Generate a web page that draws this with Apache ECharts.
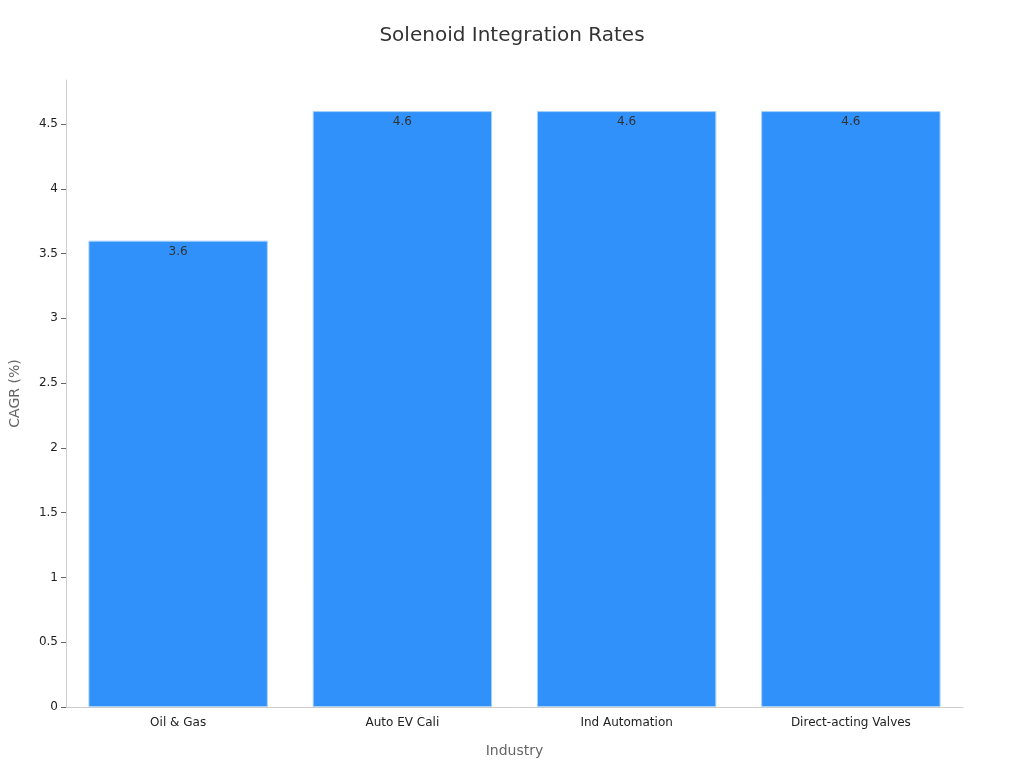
<!DOCTYPE html>
<html>
<head>
<meta charset="utf-8">
<script src="https://cdn.jsdelivr.net/npm/echarts@6/dist/echarts.min.js"></script>
<style>html,body{margin:0;padding:0;background:#fff}#main{width:1024px;height:768px}</style>
</head>
<body>
<div id="main"></div>
<script>
var industries = ['Oil & Gas', 'Auto EV Cali', 'Ind Automation', 'Direct-acting Valves'];
var cagr = [3.6, 4.6, 4.6, 4.6];

var myChart = echarts.init(document.getElementById('main'));
var option = {
	textStyle: { fontFamily: 'DejaVu Sans' },
	title: {
		text: 'Solenoid Integration Rates',
		left: 'center',
		top: 21,
		textStyle: { fontSize: 20, fontWeight: 'normal', color: '#333', fontFamily: 'DejaVu Sans' }
	},
	grid: { left: 64, right: 61, top: 80, bottom: 61 },
	xAxis: {
		type: 'category',
		data: industries,
		name: 'Industry',
		nameLocation: 'middle',
		nameGap: 37,
		nameTextStyle: { fontSize: 14, color: '#666' },
		axisLine: { lineStyle: { color: '#ccc' } },
		axisTick: { alignWithLabel: true, lineStyle: { color: '#999' } },
		axisLabel: { color: '#222', fontSize: 12, margin: 10 }
	},
	yAxis: {
		type: 'value',
		min: 0,
		max: 4.84,
		interval: 0.5,
		name: 'CAGR (%)',
		nameLocation: 'middle',
		nameGap: 44,
		nameTextStyle: { fontSize: 14, color: '#666' },
		axisLine: { show: true, lineStyle: { color: '#ccc' } },
		axisTick: { show: true, lineStyle: { color: '#666' } },
		axisLabel: { color: '#222', fontSize: 12, showMaxLabel: false },
		splitLine: { show: false }
	},
	series: [{
		type: 'bar',
		data: cagr,
		barCategoryGap: '20%',
		itemStyle: { color: '#2f91f9', borderColor: '#a8d0fb', borderWidth: 1 },
		label: { show: true, position: 'insideTop', distance: 5, color: '#333', fontSize: 12 }
	}]
};
myChart.setOption(option);
</script>
</body>
</html>
